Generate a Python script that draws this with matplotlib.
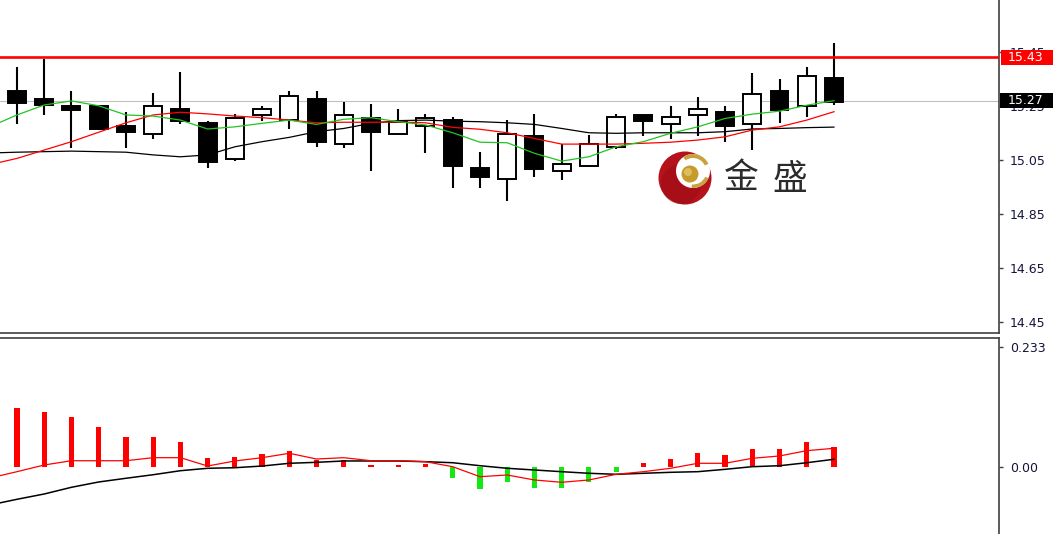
import matplotlib
matplotlib.use('Agg')
import matplotlib.pyplot as plt
from matplotlib.patches import Rectangle, Circle, Wedge
import numpy as np

# ---------------- data ----------------
opens  = [15.307, 15.276, 15.251, 15.250, 15.177, 15.145, 15.239, 15.188, 15.055, 15.217,
          15.198, 15.276, 15.108, 15.207, 15.145, 15.176, 15.198, 15.021, 14.979, 15.140,
          15.009, 15.029, 15.097, 15.217, 15.184, 15.215, 15.228, 15.184, 15.307, 15.249, 15.355]
highs  = [15.396, 15.423, 15.307, 15.254, 15.229, 15.297, 15.375, 15.196, 15.219, 15.250,
          15.307, 15.307, 15.265, 15.256, 15.239, 15.219, 15.208, 15.078, 15.198, 15.219,
          15.108, 15.143, 15.219, 15.217, 15.250, 15.284, 15.250, 15.373, 15.349, 15.396, 15.482]
lows   = [15.183, 15.217, 15.096, 15.163, 15.096, 15.127, 15.184, 15.019, 15.046, 15.196,
          15.164, 15.097, 15.096, 15.009, 15.145, 15.077, 14.945, 14.945, 14.899, 14.986,
          14.976, 15.029, 15.090, 15.139, 15.128, 15.139, 15.118, 15.086, 15.186, 15.210, 15.254]
closes = [15.262, 15.253, 15.236, 15.165, 15.154, 15.249, 15.196, 15.044, 15.207, 15.238,
          15.286, 15.117, 15.218, 15.155, 15.190, 15.207, 15.028, 14.988, 15.146, 15.018,
          15.035, 15.108, 15.208, 15.196, 15.208, 15.239, 15.176, 15.296, 15.236, 15.362, 15.266]

# moving averages, starting one bar before the first visible candle
ma_fast = [15.173, 15.217, 15.254, 15.269, 15.251, 15.217, 15.213, 15.198, 15.165, 15.173,
           15.186, 15.198, 15.182, 15.201, 15.207, 15.192, 15.180, 15.151, 15.116, 15.114,
           15.075, 15.046, 15.062, 15.099, 15.118, 15.149, 15.173, 15.204, 15.220, 15.231,
           15.253, 15.270]
ma_mid = [15.033, 15.056, 15.087, 15.118, 15.153, 15.188, 15.217, 15.227, 15.221, 15.213,
          15.207, 15.198, 15.188, 15.190, 15.190, 15.191, 15.188, 15.171, 15.164, 15.151,
          15.130, 15.109, 15.109, 15.109, 15.112, 15.116, 15.124, 15.136, 15.161, 15.173,
          15.198, 15.229]
ma_slow = [15.076, 15.079, 15.081, 15.083, 15.081, 15.079, 15.069, 15.062, 15.069, 15.099,
           15.118, 15.134, 15.155, 15.167, 15.186, 15.196, 15.198, 15.194, 15.192, 15.188,
           15.182, 15.167, 15.151, 15.149, 15.151, 15.151, 15.151, 15.155, 15.165, 15.167,
           15.170, 15.172]

macd_hist = [0.114, 0.107, 0.098, 0.078, 0.059, 0.059, 0.048, 0.018, 0.020, 0.025,
             0.032, 0.014, 0.014, 0.004, 0.003, 0.006, -0.022, -0.043, -0.030, -0.041,
             -0.041, -0.030, -0.009, 0.007, 0.015, 0.027, 0.023, 0.034, 0.034, 0.048, 0.039]
macd_red = [-0.0214, -0.0091, 0.0039, 0.0122, 0.0122, 0.0122, 0.0181, 0.0181, 0.0019, 0.0117,
            0.0181, 0.0266, 0.0155, 0.0181, 0.0122, 0.0122, 0.0103, 0.0006, -0.0188, -0.0155,
            -0.0252, -0.0297, -0.0252, -0.0142, -0.0091, -0.0025, 0.0072, 0.0072, 0.0169,
            0.0214, 0.0317, 0.0363]
macd_black = [-0.0738, -0.0627, -0.0524, -0.0394, -0.0291, -0.0219, -0.0150, -0.0072, -0.0025,
              -0.0014, 0.0019, 0.0072, 0.0091, 0.0117, 0.0117, 0.0117, 0.0103, 0.0083, 0.0025,
              -0.0025, -0.0058, -0.0091, -0.0122, -0.0142, -0.0122, -0.0103, -0.0091, -0.0045,
              0.0006, 0.0025, 0.0083, 0.0150]

price_ticks = [15.45, 15.25, 15.05, 14.85, 14.65, 14.45]
price_tick_labels = ['15.45', '15.25', '15.05', '14.85', '14.65', '14.45']
ind_ticks = [0.233, 0.0]
ind_tick_labels = ['0.233', '0.00']
level_price = 15.43
last_price = 15.27
logo_text = ['金', '盛']

# ---------------- figure ----------------
W, H = 1053, 534
fig = plt.figure(figsize=(W / 100, H / 100), dpi=100)
fig.patch.set_facecolor('white')

ax = fig.add_axes([0, 1 - 333 / H, 999 / W, 333 / H])
ax2 = fig.add_axes([0, 0, 999 / W, 196 / H])

xmin, xmax = -0.624, 36.06
label_color = '#14143a'
spine_color = '#404040'

for a in (ax, ax2):
    a.set_xlim(xmin, xmax)
    a.set_facecolor('white')
    a.spines['left'].set_visible(False)
    a.spines['top'].set_visible(a is ax2)
    a.spines['bottom'].set_visible(a is ax)
    a.spines['right'].set_color(spine_color)
    a.spines['right'].set_linewidth(1.2)
    a.spines['bottom'].set_color(spine_color)
    a.spines['top'].set_color(spine_color)
    a.spines['bottom'].set_linewidth(1.2)
    a.spines['top'].set_linewidth(1.2)
    a.set_xticks([])
    a.yaxis.tick_right()
    a.tick_params(axis='y', direction='out', length=3, width=1, color=spine_color,
                  labelcolor=label_color, labelsize=9, pad=5)

# main price panel
ax.set_ylim(14.409, 15.643)
ax.set_yticks(price_ticks)
ax.set_yticklabels(price_tick_labels)

xs = np.arange(len(opens))
bw = 0.66
for i, (o, h, l, c) in enumerate(zip(opens, highs, lows, closes)):
    ax.vlines(xs[i], l, h, color='black', lw=1.5, zorder=2)
    bull = c >= o
    ax.add_patch(Rectangle((xs[i] - bw / 2, min(o, c)), bw, abs(c - o),
                           facecolor='white' if bull else 'black', edgecolor='black',
                           lw=1.4, zorder=3))

xma = np.arange(-1, len(opens))
ax.plot(xma, ma_slow, color='black', lw=0.9, zorder=4)
ax.plot(xma, ma_mid, color='#ff0000', lw=0.9, zorder=5)
ax.plot(xma, ma_fast, color='#22c322', lw=0.9, zorder=6)

ax.axhline(level_price, color='#ff0000', lw=1.9, zorder=7)
ax.axhline(last_price, color='#c0c0c0', lw=0.8, zorder=1)

ytr = ax.get_yaxis_transform()
box_h = 15 / 270
ax.add_patch(Rectangle((1.0025, level_price - box_h / 2), 0.06, box_h, transform=ytr,
                       facecolor='#ff0000', edgecolor='none', clip_on=False, zorder=10))
ax.text(1.009, level_price, '15.43', transform=ytr, color='white', fontsize=9,
        va='center', ha='left', zorder=11, clip_on=False)
ax.add_patch(Rectangle((1.0015, last_price - box_h / 2), 0.06, box_h, transform=ytr,
                       facecolor='black', edgecolor='none', clip_on=False, zorder=10))
ax.text(1.009, last_price, '15.27', transform=ytr, color='white', fontsize=9,
        va='center', ha='left', zorder=11, clip_on=False)

# indicator panel
ax2.set_ylim(-0.1301, 0.2505)
ax2.set_yticks(ind_ticks)
ax2.set_yticklabels(ind_tick_labels)
hist = np.array(macd_hist)
cols = ['#ff0000' if v >= 0 else '#13e813' for v in hist]
ax2.bar(xs, hist, width=0.19, color=cols, zorder=2)
ax2.plot(xma, macd_black, color='black', lw=1.1, zorder=3)
ax2.plot(xma, macd_red, color='#ff0000', lw=0.9, zorder=4)

# logo
lx0, ly0 = 655, 208
ax_logo = fig.add_axes([lx0 / W, 1 - ly0 / H, 60 / W, 60 / H])
ax_logo.set_xlim(0, 60)
ax_logo.set_ylim(0, 60)
ax_logo.axis('off')
ax_logo.add_patch(Circle((30, 30), 26.5, facecolor='#b5121b', edgecolor='none'))
ax_logo.add_patch(Circle((26, 24), 20, facecolor='#9a0c14', edgecolor='none', alpha=0.5))
ax_logo.add_patch(Circle((38, 37), 17, facecolor='white', edgecolor='none'))
ax_logo.add_patch(Wedge((38, 37), 17, 25, 125, width=4, facecolor='#c9a23e', edgecolor='none'))
ax_logo.add_patch(Wedge((38, 37), 17, -95, -25, width=3.5, facecolor='#c9a23e', edgecolor='none'))
ax_logo.add_patch(Circle((35, 34), 8.5, facecolor='#c79a2c', edgecolor='none'))
ax_logo.add_patch(Circle((33, 36), 4, facecolor='#e6cc7a', edgecolor='none', alpha=0.7))

fig.text(741 / W, 1 - 179 / H, logo_text[0], fontsize=25, color='#2b2b2b',
         family=['Noto Sans CJK SC', 'DejaVu Sans'], ha='center', va='center')
fig.text(790 / W, 1 - 179 / H, logo_text[1], fontsize=25, color='#2b2b2b',
         family=['Noto Sans CJK SC', 'DejaVu Sans'], ha='center', va='center')

fig.savefig('out.png', dpi=100, facecolor='white')
